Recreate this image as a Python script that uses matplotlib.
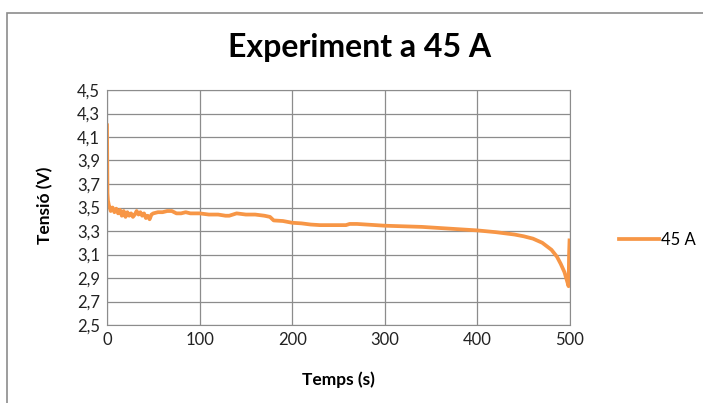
import matplotlib.pyplot as plt
from matplotlib.patches import Rectangle
from matplotlib.ticker import FuncFormatter

# time (s) and voltage (V)
temps = [0, 0.5, 1, 2, 3, 4, 6, 8, 10, 12, 14, 16, 18, 20, 22, 24, 26, 28, 30,
         32, 34, 36, 38, 40, 42, 44, 46, 48, 50, 55, 60, 65, 70, 75, 80, 85, 90,
         95, 100, 110, 120, 128, 132, 140, 150, 160, 170, 176, 180, 190, 200,
         210, 220, 230, 240, 250, 258, 262, 270, 280, 290, 300, 320, 340, 360,
         380, 400, 420, 440, 450, 460, 470, 480, 486, 490, 494, 497, 498.5,
         499, 499.5]
tensio = [4.2, 3.62, 3.56, 3.52, 3.5, 3.47, 3.5, 3.46, 3.49, 3.45, 3.48, 3.43,
          3.47, 3.42, 3.46, 3.43, 3.45, 3.42, 3.44, 3.47, 3.44, 3.46, 3.43,
          3.45, 3.41, 3.43, 3.40, 3.44, 3.45, 3.46, 3.46, 3.47, 3.47, 3.45,
          3.45, 3.46, 3.45, 3.45, 3.45, 3.44, 3.44, 3.43, 3.43, 3.45, 3.44,
          3.44, 3.43, 3.42, 3.39, 3.385, 3.37, 3.365, 3.355, 3.35, 3.35, 3.35,
          3.35, 3.36, 3.36, 3.355, 3.35, 3.345, 3.34, 3.335, 3.325, 3.315,
          3.305, 3.29, 3.27, 3.255, 3.235, 3.2, 3.14, 3.08, 3.02, 2.95, 2.87,
          2.83, 3.1, 3.22]

plt.rcParams['font.family'] = ['Lato', 'DejaVu Sans']

fig = plt.figure(figsize=(7.03, 4.03), dpi=100)
ax = fig.add_axes([107/703, 1-325/403, (570-107)/703, (325-90)/403])

# chart frame like the Excel chart area
fig.patches.append(Rectangle((7/703, -0.1), 1.2, (403-13)/403 + 0.1,
                             transform=fig.transFigure, fill=False,
                             edgecolor='#8c8c8c', linewidth=1.2))

ax.plot(temps, tensio, color='#F79646', linewidth=2.7, label='45 A')

ax.set_xlim(0, 500)
ax.set_ylim(2.5, 4.5)
ax.set_xticks(range(0, 501, 100))
ax.set_yticks([2.5 + 0.2*i for i in range(11)])
ax.yaxis.set_major_formatter(FuncFormatter(lambda v, p: ('%.1f' % v).replace('.', ',')))
ax.tick_params(length=0, labelsize=12, colors='#222222', pad=5)
ax.grid(True, color='#8c8c8c', linewidth=0.9)
ax.set_axisbelow(True)
for s in ax.spines.values():
    s.set_color('#8c8c8c')

fig.text(360/703, 1-48/403, 'Experiment a 45 A', ha='center', va='center',
         fontsize=23, fontweight='bold')
fig.text(45/703, 1-205/403, 'Tensió (V)', ha='center', va='center',
         rotation=90, fontsize=12.5, fontweight='bold')
fig.text(338/703, 1-380/403, 'Temps (s)', ha='center', va='center',
         fontsize=12.5, fontweight='bold')

fig.legend(loc='center left', bbox_to_anchor=(604/703, 1-240/403), frameon=False,
           fontsize=12, handlelength=2.4, handletextpad=0.1)

fig.savefig('out.png', dpi=100)
